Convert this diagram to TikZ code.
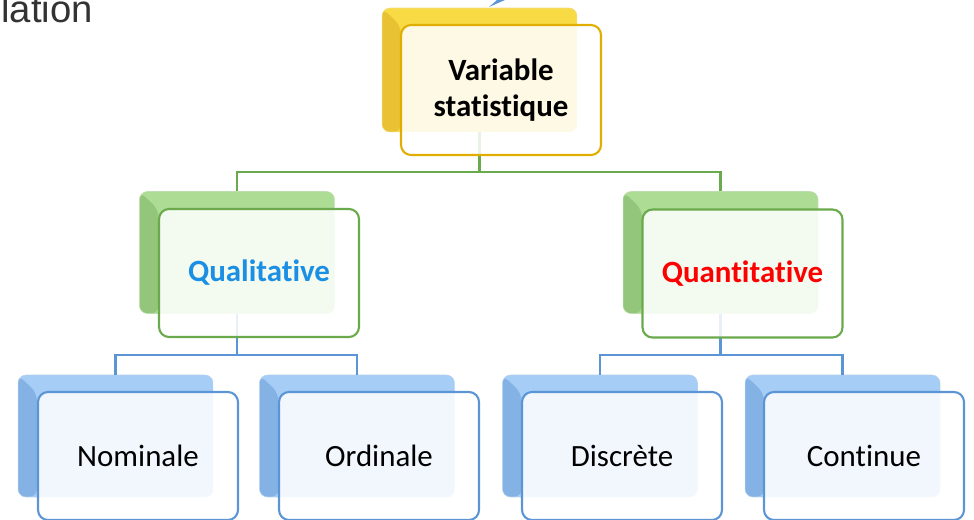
\documentclass[tikz,border=0pt]{standalone}
\usepackage{fontspec}
\setmainfont{Carlito}[Ligatures={TeX,NoCommon}]
\newfontfamily\arialfont{Liberation Sans}
\usepackage{xcolor}
\definecolor{colYel}{HTML}{F8DA45}
\definecolor{colYelDark}{HTML}{E8C232}
\definecolor{colYelLine}{HTML}{E0AE00}
\definecolor{colGrn}{HTML}{ADDC94}
\definecolor{colGrnDark}{HTML}{93C67A}
\definecolor{colGrnLine}{HTML}{6AAA4C}
\definecolor{colBlu}{HTML}{A5CDF6}
\definecolor{colBluDark}{HTML}{84B2E4}
\definecolor{colBluLine}{HTML}{5B95D5}
\definecolor{colQual}{HTML}{1A8FE3}
\newcommand\boxfont{\fontsize{17.6}{20.5}\selectfont}
\usetikzlibrary{calc, positioning}

\begin{document}
\begin{tikzpicture}[x=0.02cm, y=-0.02cm,
    backbox/.style={rectangle, rounded corners=0.16cm, minimum width=3.9cm, minimum height=2.44cm,
      fill=col#1, draw=col#1Dark!60, line width=0.3pt,
      path picture={\fill[col#1Dark] (path picture bounding box.north west) -- ++(0.38cm,-0.36cm)
        -- ([xshift=0.38cm]path picture bounding box.south west) -- (path picture bounding box.south west) -- cycle;}},
    frontbox/.style={rectangle, rounded corners=0.2cm, minimum width=4cm, minimum height=2.56cm,
      draw=col#1Line, line width=1.2pt, fill=white, fill opacity=0.86, text opacity=1,
      align=center, font=\boxfont},
    link/.style={line width=1.4pt, draw=col#1Line}]
  \useasboundingbox (0,0) rectangle (974,520);
  % cut-off bits at the top
  \node[font=\arialfont\fontsize{21.8}{24}\selectfont, text=black!80, anchor=base west, inner sep=0] (title) at (1,23) {lation};
  \fill[colBluLine] (489,7) -- (497,0) -- (505,0) -- cycle;
  % back boxes
  \node[backbox=Yel, minimum height=2.48cm] (varB) at (479.5,70) {};
  \node[backbox=Grn] (qualB) at (237,252.5) {};
  \node[backbox=Grn] (quantB) at (720.5,252.5) {};
  \node[backbox=Blu] (nomB) at (115.5,436) {};
  \node[backbox=Blu] (ordB) at (357,436) {};
  \node[backbox=Blu] (disB) at (600,436) {};
  \node[backbox=Blu] (conB) at (842.5,436) {};
  % connectors
  \draw[link=Grn] (varB.south) -- ++(0,40) coordinate (varJ) -| (qualB.north);
  \draw[link=Grn] (varJ) -| (quantB.north);
  \draw[link=Blu] (qualB.south) -- ++(0,41.5) coordinate (qualJ) -| (nomB.north);
  \draw[link=Blu] (qualJ) -| (ordB.north);
  \draw[link=Blu] (quantB.south) -- ++(0,41.5) coordinate (quantJ) -| (disB.north);
  \draw[link=Blu] (quantJ) -| (conB.north);
  % front boxes
  \node[frontbox=Yel, minimum height=2.6cm, font=\boxfont\bfseries] (varF) at ($(varB)+(21.5,20)$) {Variable\\statistique};
  \node[frontbox=Grn, font=\boxfont\bfseries, text=colQual] (qualF) at ($(qualB)+(22,20.5)$) {Qualitative};
  \node[frontbox=Grn, font=\boxfont\bfseries, text=red] (quantF) at ($(quantB)+(22,21)$) {Quantitative};
  \node[frontbox=Blu] (nomF) at ($(nomB)+(22.5,20)$) {Nominale};
  \node[frontbox=Blu] (ordF) at ($(ordB)+(22,20)$) {Ordinale};
  \node[frontbox=Blu] (disF) at ($(disB)+(22,20)$) {Discrète};
  \node[frontbox=Blu] (conF) at ($(conB)+(21.5,20)$) {Continue};
\end{tikzpicture}
\end{document}
